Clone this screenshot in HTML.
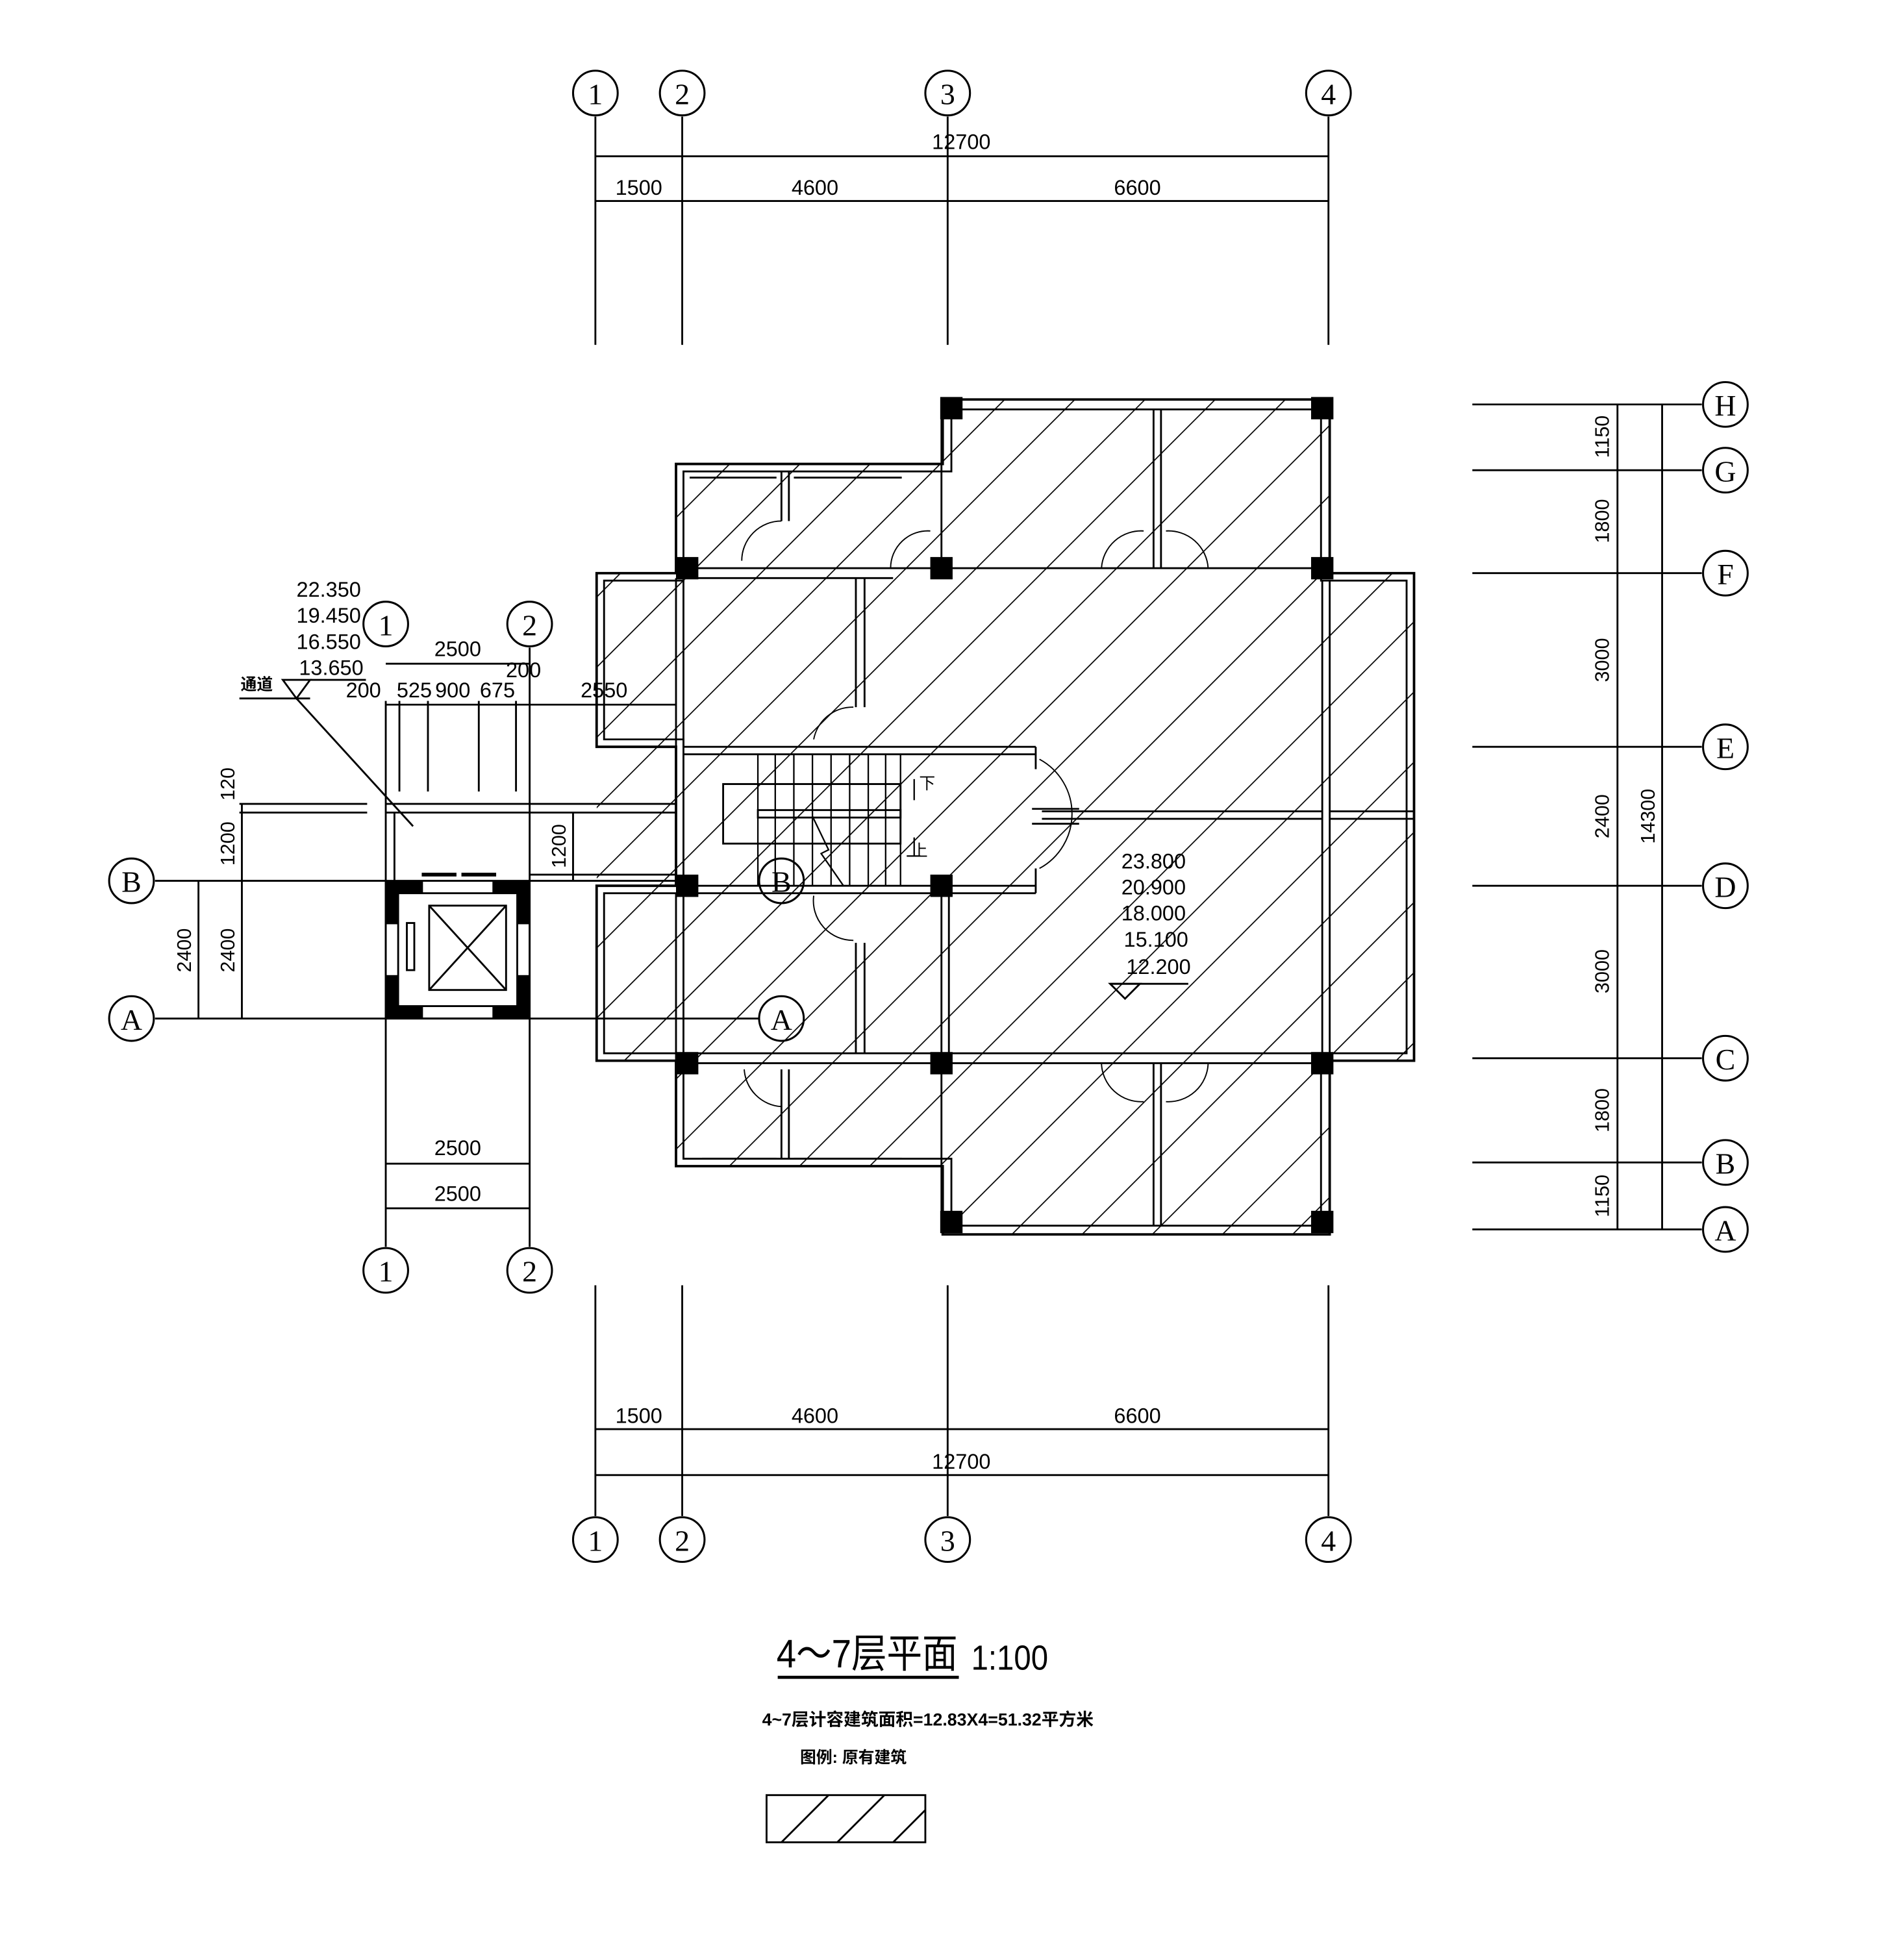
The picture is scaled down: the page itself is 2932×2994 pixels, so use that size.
<!DOCTYPE html>
<html><head><meta charset="utf-8"><style>
html,body{margin:0;padding:0;background:#fff;}
svg{display:block;}
text{font-family:"Liberation Sans","Noto Sans CJK SC",sans-serif;fill:#000;}
.c{font-family:"Liberation Serif","Noto Serif CJK SC",serif;}
</style></head><body>
<svg width="2932" height="2994" viewBox="0 0 1535 1567" preserveAspectRatio="none" xmlns="http://www.w3.org/2000/svg">
<defs>
<pattern id="h" patternUnits="userSpaceOnUse" width="40" height="40" patternTransform="rotate(45)">
<line x1="0" y1="-5" x2="0" y2="45" stroke="#000" stroke-width="1.8"/>
</pattern>
<clipPath id="bld">
<rect x="760" y="322" width="312" height="673"/>
<rect x="545" y="374" width="215" height="566"/>
<rect x="481" y="462" width="660" height="140"/>
<rect x="481" y="602" width="660" height="253"/>
</clipPath>
</defs>
<rect width="1535" height="1567" fill="#fff"/>
<g stroke="#000" fill="none" stroke-width="1.5">
<line x1="480" y1="94" x2="480" y2="278"/><line x1="550" y1="94" x2="550" y2="278"/>
<line x1="764" y1="94" x2="764" y2="278"/><line x1="1071" y1="94" x2="1071" y2="278"/>
<line x1="480" y1="126" x2="1071" y2="126"/><line x1="480" y1="162" x2="1071" y2="162"/>
<line x1="480" y1="1036" x2="480" y2="1222"/><line x1="550" y1="1036" x2="550" y2="1222"/>
<line x1="764" y1="1036" x2="764" y2="1222"/><line x1="1071" y1="1036" x2="1071" y2="1222"/>
<line x1="480" y1="1152" x2="1071" y2="1152"/><line x1="480" y1="1189" x2="1071" y2="1189"/>
<g>
<line x1="1187" y1="326" x2="1372" y2="326"/><line x1="1187" y1="379" x2="1372" y2="379"/>
<line x1="1187" y1="462" x2="1372" y2="462"/><line x1="1187" y1="602" x2="1372" y2="602"/>
<line x1="1187" y1="714" x2="1372" y2="714"/><line x1="1187" y1="853" x2="1372" y2="853"/>
<line x1="1187" y1="937" x2="1372" y2="937"/><line x1="1187" y1="991" x2="1372" y2="991"/>
<line x1="1304" y1="326" x2="1304" y2="991"/><line x1="1340" y1="326" x2="1340" y2="991"/>
</g>
<rect x="400" y="300" width="800" height="720" fill="url(#h)" stroke="none" clip-path="url(#bld)"/>
<path d="M760 322 H1072 V462 H1140 V855 H1072 V995 H760 V940 H545 V855 H481 V714 H545 V602 H481 V462 H545 V374 H760 Z" stroke-width="2"/>
<path d="M767 330 H1065 V468 H1134 V849 H1065 V988 H767 V934 H551 V849 H487 V720 H551 V596 H487 V468 H551 V380 H767 Z"/>
<line x1="551" y1="458" x2="1066" y2="458"/><line x1="551" y1="466" x2="720" y2="466"/>
<line x1="551" y1="849" x2="1066" y2="849"/><line x1="551" y1="857" x2="1066" y2="857"/>
<line x1="551" y1="714" x2="835" y2="714"/><line x1="551" y1="720" x2="835" y2="720"/>
<line x1="551" y1="602" x2="835" y2="602"/><line x1="551" y1="608" x2="835" y2="608"/>
<path d="M835 602 V620 M835 700 V720"/>
<line x1="759" y1="330" x2="759" y2="458"/><line x1="759" y1="714" x2="759" y2="988"/><line x1="765" y1="720" x2="765" y2="849"/>
<line x1="930" y1="330" x2="930" y2="458"/><line x1="936" y1="330" x2="936" y2="458"/>
<line x1="930" y1="857" x2="930" y2="988"/><line x1="936" y1="857" x2="936" y2="988"/>
<line x1="1066" y1="468" x2="1066" y2="849"/><line x1="1072" y1="468" x2="1072" y2="849"/>
<line x1="1072" y1="654" x2="1140" y2="654"/><line x1="1072" y1="660" x2="1140" y2="660"/>
<line x1="840" y1="654" x2="1066" y2="654"/><line x1="840" y1="660" x2="1066" y2="660"/>
<line x1="545" y1="466" x2="545" y2="602"/><line x1="551" y1="466" x2="551" y2="602"/>
<line x1="545" y1="720" x2="545" y2="855"/><line x1="551" y1="720" x2="551" y2="855"/>
<line x1="690" y1="466" x2="690" y2="570"/><line x1="697" y1="466" x2="697" y2="570"/>
<line x1="690" y1="760" x2="690" y2="849"/><line x1="697" y1="760" x2="697" y2="849"/>
<line x1="630" y1="380" x2="630" y2="420"/><line x1="636" y1="380" x2="636" y2="420"/>
<line x1="630" y1="862" x2="630" y2="934"/><line x1="636" y1="862" x2="636" y2="934"/>
<line x1="556" y1="385" x2="626" y2="385"/><line x1="640" y1="385" x2="727" y2="385"/>
<line x1="566" y1="934" x2="626" y2="934"/><line x1="640" y1="934" x2="727" y2="934"/>
<path d="M750 428 A30 30 0 0 0 718 458" stroke-width="1"/>
<path d="M922 428 A32 32 0 0 0 888 458 M940 428 A32 32 0 0 1 974 458" stroke-width="1"/>
<path d="M922 888 A32 32 0 0 1 888 857 M940 888 A32 32 0 0 0 974 857" stroke-width="1"/>
<path d="M630 420 A32 32 0 0 0 598 452" stroke-width="1"/>
<path d="M600 862 A32 32 0 0 0 630 892" stroke-width="1"/>
<path d="M688 570 A32 32 0 0 0 656 596" stroke-width="1"/>
<path d="M656 722 A32 32 0 0 0 688 758" stroke-width="1"/>
<path d="M838 612 A50 50 0 0 1 838 700" stroke-width="1"/>
<line x1="832" y1="652" x2="870" y2="652"/><line x1="832" y1="664" x2="870" y2="664"/>
<rect x="583" y="632" width="143" height="48"/>
<g stroke-width="1.2">
<line x1="611" y1="608" x2="611" y2="714"/><line x1="625" y1="608" x2="625" y2="714"/>
<line x1="640" y1="608" x2="640" y2="714"/><line x1="655" y1="608" x2="655" y2="714"/>
<line x1="670" y1="608" x2="670" y2="714"/><line x1="685" y1="608" x2="685" y2="714"/>
<line x1="700" y1="608" x2="700" y2="714"/><line x1="714" y1="608" x2="714" y2="714"/>
<line x1="726" y1="608" x2="726" y2="714"/>
</g>
<rect x="611" y="653" width="115" height="6"/>
<path d="M655 658 L668 685 L662 688 L680 714" stroke-width="1.2"/>
<path d="M737 628 V645 M737 675 V690 M731 690 H742" stroke-width="1.2"/>
<line x1="193" y1="648" x2="296" y2="648"/><line x1="193" y1="655" x2="296" y2="655"/>
<line x1="311" y1="648" x2="545" y2="648"/><line x1="311" y1="655" x2="545" y2="655"/>
<line x1="318" y1="655" x2="318" y2="710"/>
<line x1="427" y1="710" x2="545" y2="710"/><line x1="427" y1="705" x2="545" y2="705"/>
<line x1="311" y1="565" x2="311" y2="1005"/><line x1="427" y1="522" x2="427" y2="1005"/>
<line x1="322" y1="565" x2="322" y2="638"/><line x1="345" y1="565" x2="345" y2="638"/>
<line x1="386" y1="565" x2="386" y2="638"/><line x1="416" y1="565" x2="416" y2="638"/>
<line x1="311" y1="535" x2="427" y2="535"/>
<line x1="311" y1="568" x2="545" y2="568"/>
<rect x="311" y="710" width="116" height="111"/>
<rect x="321" y="720" width="96" height="91"/>
<rect x="346" y="730" width="62" height="68"/>
<path d="M346 730 L408 798 M408 730 L346 798"/>
<rect x="328" y="744" width="6" height="38"/>
<line x1="340" y1="705" x2="368" y2="705" stroke-width="3"/><line x1="372" y1="705" x2="400" y2="705" stroke-width="3"/>
<line x1="125" y1="710" x2="311" y2="710"/><line x1="125" y1="821" x2="612" y2="821"/>
<line x1="160" y1="710" x2="160" y2="821"/><line x1="195" y1="648" x2="195" y2="821"/>
<line x1="462" y1="655" x2="462" y2="710"/>
<line x1="311" y1="938" x2="427" y2="938"/><line x1="311" y1="974" x2="427" y2="974"/>
<line x1="193" y1="563" x2="250" y2="563"/>
<path d="M228 548 L250 548 L239 563 Z"/>
<line x1="239" y1="563" x2="333" y2="666"/>
<line x1="250" y1="548" x2="295" y2="548"/>
<g stroke-width="1.6">
<circle cx="480" cy="75" r="18"/><circle cx="550" cy="75" r="18"/><circle cx="764" cy="75" r="18"/><circle cx="1071" cy="75" r="18"/>
<circle cx="480" cy="1241" r="18"/><circle cx="550" cy="1241" r="18"/><circle cx="764" cy="1241" r="18"/><circle cx="1071" cy="1241" r="18"/>
<circle cx="1391" cy="326" r="18"/><circle cx="1391" cy="379" r="18"/><circle cx="1391" cy="462" r="18"/><circle cx="1391" cy="602" r="18"/>
<circle cx="1391" cy="714" r="18"/><circle cx="1391" cy="853" r="18"/><circle cx="1391" cy="937" r="18"/><circle cx="1391" cy="991" r="18"/>
<circle cx="311" cy="503" r="18"/><circle cx="427" cy="503" r="18"/><circle cx="311" cy="1024" r="18"/><circle cx="427" cy="1024" r="18"/>
<circle cx="106" cy="710" r="18"/><circle cx="106" cy="821" r="18"/>
<circle cx="630" cy="710" r="18"/><circle cx="630" cy="821" r="18"/>
</g>
<rect x="618" y="1447" width="128" height="38"/>
<path d="M630 1485 L668 1447 M675 1485 L713 1447 M720 1485 L746 1459"/>
<line x1="627" y1="1352" x2="773" y2="1352" stroke-width="2.5"/>
<path d="M895 793 L919 793 L907 805 Z"/><line x1="895" y1="793" x2="958" y2="793"/>
</g>
<g fill="#000">
<rect x="758" y="320" width="18" height="18"/><rect x="1057" y="320" width="18" height="18"/>
<rect x="545" y="449" width="18" height="18"/><rect x="750" y="449" width="18" height="18"/><rect x="1057" y="449" width="18" height="18"/>
<rect x="545" y="705" width="18" height="18"/><rect x="750" y="705" width="18" height="18"/>
<rect x="545" y="848" width="18" height="18"/><rect x="750" y="848" width="18" height="18"/><rect x="1057" y="848" width="18" height="18"/>
<rect x="758" y="976" width="18" height="18"/><rect x="1057" y="976" width="18" height="18"/>
<rect x="311" y="710" width="30" height="10"/><rect x="397" y="710" width="30" height="10"/>
<rect x="311" y="710" width="10" height="35"/><rect x="417" y="710" width="10" height="35"/>
<rect x="311" y="786" width="10" height="35"/><rect x="417" y="786" width="10" height="35"/>
<rect x="311" y="811" width="30" height="10"/><rect x="397" y="811" width="30" height="10"/>
</g>
<g font-size="24" text-anchor="middle">
<text class="c" x="480" y="84">1</text><text class="c" x="550" y="84">2</text><text class="c" x="764" y="84">3</text><text class="c" x="1071" y="84">4</text>
<text class="c" x="480" y="1250">1</text><text class="c" x="550" y="1250">2</text><text class="c" x="764" y="1250">3</text><text class="c" x="1071" y="1250">4</text>
<text class="c" x="1391" y="335">H</text><text class="c" x="1391" y="388">G</text><text class="c" x="1391" y="471">F</text><text class="c" x="1391" y="611">E</text>
<text class="c" x="1391" y="723">D</text><text class="c" x="1391" y="862">C</text><text class="c" x="1391" y="946">B</text><text class="c" x="1391" y="1000">A</text>
<text class="c" x="311" y="512">1</text><text class="c" x="427" y="512">2</text><text class="c" x="311" y="1033">1</text><text class="c" x="427" y="1033">2</text>
<text class="c" x="106" y="719">B</text><text class="c" x="106" y="830">A</text>
<text class="c" x="630" y="719">B</text><text class="c" x="630" y="830">A</text>
</g>
<g font-size="17" text-anchor="middle">
<text x="775" y="120">12700</text>
<text x="515" y="157">1500</text><text x="657" y="157">4600</text><text x="917" y="157">6600</text>
<text x="515" y="1147">1500</text><text x="657" y="1147">4600</text><text x="917" y="1147">6600</text>
<text x="775" y="1184">12700</text>
<text x="369" y="529">2500</text>
<text x="369" y="931">2500</text><text x="369" y="968">2500</text>
<text x="293" y="562">200</text><text x="334" y="562">525</text><text x="365" y="562">900</text><text x="401" y="562">675</text>
<text x="422" y="546">200</text><text x="487" y="562">2550</text>
<text x="265" y="481">22.350</text><text x="265" y="502">19.450</text><text x="265" y="523">16.550</text><text x="267" y="544">13.650</text>
<text x="930" y="700">23.800</text><text x="930" y="721">20.900</text><text x="930" y="742">18.000</text><text x="932" y="763">15.100</text><text x="934" y="785">12.200</text>
</g>
<g font-size="16" text-anchor="middle">
<text transform="translate(1297,352) rotate(-90)">1150</text>
<text transform="translate(1297,420) rotate(-90)">1800</text>
<text transform="translate(1297,532) rotate(-90)">3000</text>
<text transform="translate(1297,658) rotate(-90)">2400</text>
<text transform="translate(1297,783) rotate(-90)">3000</text>
<text transform="translate(1297,895) rotate(-90)">1800</text>
<text transform="translate(1297,964) rotate(-90)">1150</text>
<text transform="translate(1334,658) rotate(-90)">14300</text>
<text transform="translate(189,632) rotate(-90)">120</text>
<text transform="translate(189,680) rotate(-90)">1200</text>
<text transform="translate(456,682) rotate(-90)">1200</text>
<text transform="translate(154,766) rotate(-90)">2400</text>
<text transform="translate(189,766) rotate(-90)">2400</text>
</g>
<text x="207" y="556" font-size="13" font-weight="bold" text-anchor="middle">通道</text>
<text x="741" y="636" font-size="13">下</text><text x="735" y="690" font-size="13">上</text>
<text x="626" y="1344" font-size="32" textLength="146" lengthAdjust="spacingAndGlyphs">4～7层平面</text>
<text x="783" y="1346" font-size="28" textLength="62" lengthAdjust="spacingAndGlyphs">1:100</text>
<text x="748" y="1391" font-size="14" font-weight="bold" text-anchor="middle">4~7层计容建筑面积=12.83X4=51.32平方米</text>
<text x="645" y="1421" font-size="13" font-weight="bold">图例: 原有建筑</text>
</svg>
</body></html>
